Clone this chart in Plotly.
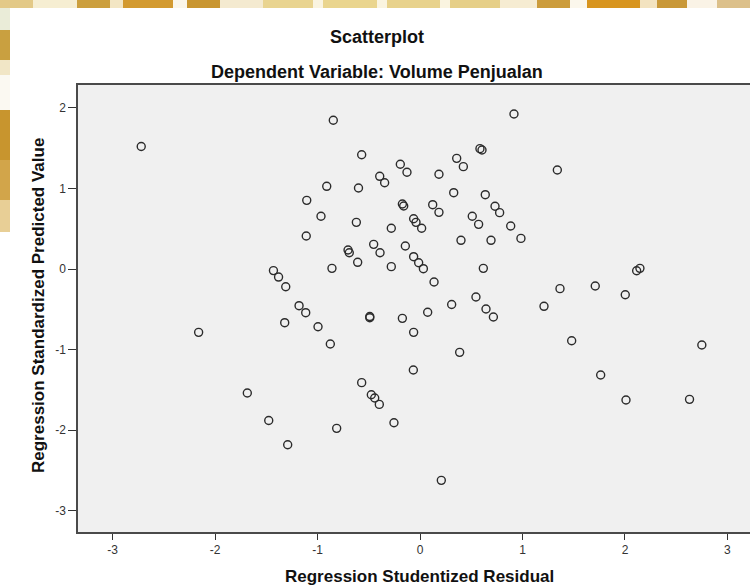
import plotly.graph_objects as go

# Data
residual = [-2.72, -1.105, -1.11, -1.43, -1.38, -1.31, -1.18, -0.846, 0.917, -0.569,
            0.585, 0.605, 0.358, 0.423, -0.192, -0.127, 0.185, -0.393, -0.345, -0.91,
            -0.60, 1.34, 0.329, 0.637, -0.172, -0.159, 0.124, 0.185, 0.732, 0.777,
            -0.966, 0.51, 0.572, 0.885, -0.062, -0.039, 0.016, -0.621, -0.28, 0.985,
            0.40, 0.693, -0.452, -0.143, -0.702, -0.69, -0.39, -0.062, -0.608, -0.013,
            0.033, -0.28, -0.859, 0.618, 0.137, 0.546, 0.309, 1.21, 1.366, 1.71,
            2.003, 2.114, 2.146, 0.644, 0.716, 0.075, -0.172, -0.49, -0.49, -0.062,
            -0.995, -1.115, -0.875, 0.387, -0.065, -0.569, -0.475, -0.442, -0.397, -0.254,
            -0.813, 0.208, -2.16, -1.32, -1.685, -1.476, -1.291, 1.48, 2.75, 1.763,
            2.01, 2.63]
predicted = [1.52, 0.852, 0.41, -0.02, -0.10, -0.22, -0.455, 1.845, 1.923, 1.418,
             1.493, 1.476, 1.373, 1.27, 1.30, 1.20, 1.175, 1.15, 1.07, 1.026,
             1.005, 1.228, 0.947, 0.922, 0.806, 0.782, 0.798, 0.703, 0.778, 0.699,
             0.654, 0.654, 0.554, 0.534, 0.624, 0.579, 0.505, 0.579, 0.505, 0.38,
             0.356, 0.356, 0.306, 0.285, 0.236, 0.202, 0.202, 0.153, 0.083, 0.078,
             0.004, 0.029, 0.008, 0.008, -0.161, -0.347, -0.440, -0.463, -0.244, -0.211,
             -0.319, -0.021, 0.008, -0.496, -0.596, -0.537, -0.612, -0.59, -0.604, -0.786,
             -0.716, -0.542, -0.93, -1.034, -1.253, -1.41, -1.56, -1.60, -1.68, -1.907,
             -1.977, -2.622, -0.786, -0.666, -1.539, -1.88, -2.18, -0.89, -0.943, -1.315,
             -1.625, -1.617]
x_ticks = [-3, -2, -1, 0, 1, 2, 3]
y_ticks = [-3, -2, -1, 0, 1, 2]

W, H = 750, 587
L, R, T, B = 78, 0, 85, 55
PW, PH = W - L - R, H - T - B


def px(xp):
    return (xp - L) / PW


def py(yp):
    return (H - B - yp) / PH


FONT = "Liberation Sans, Arial, sans-serif"

fig = go.Figure()
fig.add_trace(go.Scatter(
    x=residual, y=predicted, mode="markers",
    marker=dict(symbol="circle-open", size=8, color="#2b2b2b",
                line=dict(width=1.4, color="#2b2b2b")),
    showlegend=False, hoverinfo="x+y"))

# decorative blurred background strips (outside the white panel)
strips_top = [(0, 33, "#e3c987"), (33, 77, "#f6eed2"), (77, 110, "#cc9f3e"),
              (110, 123, "#f3e6c4"), (123, 173, "#d39a30"), (173, 187, "#fbf6ea"),
              (187, 220, "#c99631"), (220, 263, "#f4ead0"), (263, 313, "#e9d490"),
              (313, 323, "#faf4e0"), (323, 377, "#ead58e"), (377, 387, "#faf4e0"),
              (387, 440, "#e8d28c"), (440, 450, "#faf4e0"), (450, 500, "#e6cf88"),
              (500, 537, "#f6ecd2"), (537, 570, "#cc9c3c"), (570, 587, "#fbf7ec"),
              (587, 640, "#d8951f"), (640, 657, "#f3e3c0"), (657, 687, "#c99838"),
              (687, 717, "#faf3e6"), (717, 750, "#dcc08a")]
shapes = []
for a, b, c in strips_top:
    shapes.append(dict(type="rect", xref="paper", yref="paper",
                       x0=px(a), x1=px(b), y0=py(8), y1=py(0),
                       fillcolor=c, line=dict(width=0), layer="below"))
strips_left = [(8, 30, "#eaecd8"), (30, 60, "#c9a040"), (60, 75, "#f1e6c6"),
               (75, 110, "#fbf9f2"), (110, 160, "#c8952e"), (160, 200, "#d2a54a"),
               (200, 232, "#e8cf96")]
for a, b, c in strips_left:
    shapes.append(dict(type="rect", xref="paper", yref="paper",
                       x0=px(0), x1=px(10), y0=py(b), y1=py(a),
                       fillcolor=c, line=dict(width=0), layer="below"))

annotations = [
    dict(text="Scatterplot", x=px(377), y=py(37), xref="paper", yref="paper",
         showarrow=False, xanchor="center", yanchor="middle",
         font=dict(family=FONT, size=18, color="#111", weight="bold")),
    dict(text="Dependent Variable: Volume Penjualan", x=px(377), y=py(72),
         xref="paper", yref="paper", showarrow=False, xanchor="center",
         yanchor="middle", font=dict(family=FONT, size=18, color="#111", weight="bold")),
    dict(text="Regression Studentized Residual", x=px(419), y=py(576),
         xref="paper", yref="paper", showarrow=False, xanchor="center",
         yanchor="middle", font=dict(family=FONT, size=17, color="#111", weight="bold")),
    dict(text="Regression Standardized Predicted Value", x=px(38), y=py(306),
         xref="paper", yref="paper", showarrow=False, xanchor="center",
         yanchor="middle", textangle=-90,
         font=dict(family=FONT, size=17, color="#111", weight="bold")),
]

fig.update_layout(
    width=W, height=H,
    margin=dict(l=L, r=R, t=T, b=B, pad=0),
    paper_bgcolor="white", plot_bgcolor="#f0f0f0",
    shapes=shapes, annotations=annotations,
    font=dict(family=FONT, size=12, color="#333"),
)
fig.update_xaxes(range=[-3.337, 3.22], tickvals=x_ticks, ticktext=[str(v) for v in x_ticks],
                 showgrid=False, zeroline=False, showline=True, mirror=True,
                 linecolor="#4a4a4a", linewidth=1.5, ticks="outside", ticklen=6,
                 tickcolor="#333", tickwidth=1, tickfont=dict(size=12, color="#333"))
fig.update_yaxes(range=[-3.263, 2.283], tickvals=y_ticks, ticktext=[str(v) for v in y_ticks],
                 showgrid=False, zeroline=False, showline=True, mirror=False,
                 linecolor="#4a4a4a", linewidth=1.5, ticks="outside", ticklen=8,
                 tickcolor="#333", tickwidth=1, tickfont=dict(size=12, color="#333"))

fig.write_html("out.html", config={"displayModeBar": False},
               post_script="document.body.style.margin='0';")
